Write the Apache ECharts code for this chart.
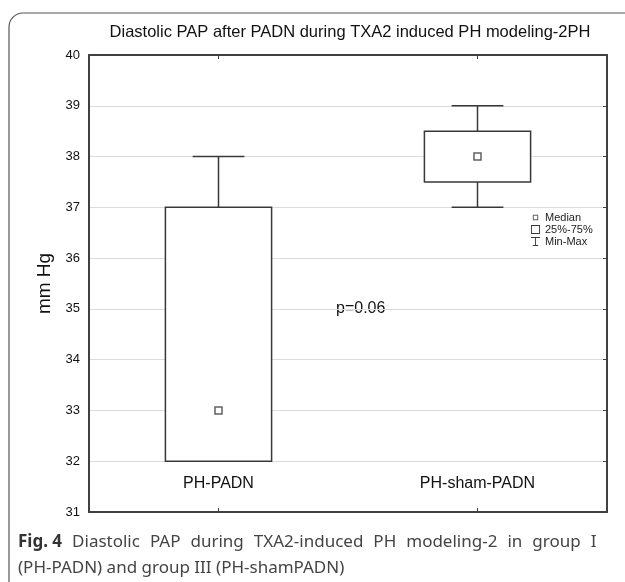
<!DOCTYPE html>
<html>
<head>
<meta charset="utf-8">
<script src="https://cdn.jsdelivr.net/npm/echarts@6/dist/echarts.min.js"></script>
<style>
  html, body { margin: 0; padding: 0; background: #fff; }
  #chart { width: 625px; height: 582px; }
</style>
</head>
<body>
<div id="chart"></div>
<script>
var groups = ['PH-PADN', 'PH-sham-PADN'];
var minVals = [32, 37];
var q1Vals = [32, 37.5];
var medianVals = [33, 38];
var q3Vals = [37, 38.5];
var maxVals = [38, 39];
var yTicks = [31, 32, 33, 34, 35, 36, 37, 38, 39, 40];

var myChart = echarts.init(document.getElementById('chart'));

var frameColor = '#404040';
var markColor = '#383838';

// whiskers: [index, min, max]
var whiskerData = groups.map(function (g, i) { return [i, minVals[i], maxVals[i]]; });
// boxes: [index, q1, q3]
var boxData = groups.map(function (g, i) { return [i, q1Vals[i], q3Vals[i]]; });
var medianData = groups.map(function (g, i) { return [i, medianVals[i]]; });

// caption line 1 is justified in the original, so words get wider gaps
var capWords = ['Diastolic', 'PAP', 'during', 'TXA2-induced', 'PH', 'modeling-2', 'in', 'group', 'I'];
var capLine1 = '{b|Fig. 4}{g| }' + capWords.map(function (w) { return '{n|' + w + '}'; }).join('{g| }');

var option = {
  animation: false,
  title: [
    {
      text: 'Diastolic PAP after PADN during TXA2 induced PH modeling-2PH',
      left: 345,
      top: 19,
      textAlign: 'center',
      textStyle: {
        color: '#111',
        fontSize: 16.5,
        fontWeight: 'normal',
        fontFamily: 'Liberation Sans'
      }
    },
    {
      text: capLine1 + '\n{n|(PH-PADN) and group III (PH-shamPADN)}',
      left: 13,
      top: 524,
      textStyle: {
        fontWeight: 'normal',
        rich: {
          b: { fontSize: 17, fontWeight: 'bold', color: '#333', fontFamily: 'Noto Sans', lineHeight: 26 },
          n: { fontSize: 17, fontWeight: 'normal', color: '#444', fontFamily: 'Noto Sans', lineHeight: 26 },
          g: { fontSize: 17, width: 10, lineHeight: 26 }
        }
      }
    }
  ],
  legend: {
    orient: 'vertical',
    left: 531,
    top: 212,
    padding: 0,
    itemGap: 1,
    itemWidth: 9,
    itemHeight: 9,
    textStyle: { fontSize: 11, color: '#222', fontFamily: 'Liberation Sans' },
    data: [
      { name: 'Median', icon: 'path://M0,0M10,10M2,2H8V8H2Z M3.1,3.1V6.9H6.9V3.1Z', itemStyle: { color: markColor, borderWidth: 0 } },
      { name: '25%-75%', icon: 'path://M0,0H10V10H0Z M1,1V9H9V1Z', itemStyle: { color: markColor, borderWidth: 0 } },
      { name: 'Min-Max', icon: 'path://M0,0H10V1H5.5V9H8V10H2V9H4.5V1H0Z', itemStyle: { color: markColor, borderWidth: 0 } }
    ]
  },
  grid: {
    left: 89,
    right: 18,
    top: 55,
    bottom: 70
  },
  xAxis: [
    {
      type: 'category',
      data: groups,
      axisLine: { lineStyle: { color: frameColor, width: 2 } },
      axisTick: { show: true, inside: true, alignWithLabel: true, length: 4, lineStyle: { color: frameColor } },
      axisLabel: {
        inside: true,
        margin: 20,
        color: '#111',
        fontSize: 16,
        fontFamily: 'Liberation Sans'
      }
    },
    {
      type: 'category',
      position: 'top',
      data: groups,
      axisLine: { lineStyle: { color: frameColor, width: 2 } },
      axisTick: { show: true, inside: true, alignWithLabel: true, length: 4, lineStyle: { color: frameColor } },
      axisLabel: { show: false }
    }
  ],
  yAxis: [
    {
      type: 'value',
      min: 31,
      max: 40,
      interval: 1,
      name: 'mm Hg',
      nameLocation: 'middle',
      nameGap: 34,
      nameTextStyle: { fontSize: 19, color: '#111', fontFamily: 'Liberation Sans' },
      axisLine: { show: true, lineStyle: { color: frameColor, width: 2 } },
      axisTick: { show: false },
      axisLabel: { margin: 9, fontSize: 13, color: '#111', fontFamily: 'Liberation Sans' },
      splitLine: { show: true, lineStyle: { color: '#dcdcdc', width: 1 } }
    },
    {
      type: 'value',
      position: 'right',
      min: 31,
      max: 40,
      interval: 1,
      axisLine: { show: true, lineStyle: { color: frameColor, width: 2 } },
      axisTick: { show: true, inside: true, length: 4, lineStyle: { color: frameColor } },
      axisLabel: { show: false },
      splitLine: { show: false }
    }
  ],
  graphic: [
    {
      type: 'rect',
      shape: { x: 9, y: 13, width: 700, height: 700, r: 14 },
      style: { fill: 'none', stroke: '#555', lineWidth: 1.2 },
      silent: true
    },
    {
      type: 'text',
      left: 336,
      top: 301,
      style: { text: 'p=0.06', fontSize: 16, fill: '#111', fontFamily: 'Liberation Sans' }
    }
  ],
  series: [
    {
      name: 'Min-Max',
      type: 'custom',
      z: 2,
      data: whiskerData,
      renderItem: function (params, api) {
        var x = api.value(0);
        var top = api.coord([x, api.value(2)]);
        var bot = api.coord([x, api.value(1)]);
        var cap = api.size([1, 0])[0] * 0.2;
        var style = { stroke: markColor, lineWidth: 1.5 };
        return {
          type: 'group',
          children: [
            { type: 'line', shape: { x1: top[0], y1: top[1], x2: bot[0], y2: bot[1] }, style: style },
            { type: 'line', shape: { x1: top[0] - cap / 2, y1: top[1], x2: top[0] + cap / 2, y2: top[1] }, style: style },
            { type: 'line', shape: { x1: bot[0] - cap / 2, y1: bot[1], x2: bot[0] + cap / 2, y2: bot[1] }, style: style }
          ]
        };
      }
    },
    {
      name: '25%-75%',
      type: 'custom',
      z: 3,
      data: boxData,
      renderItem: function (params, api) {
        var x = api.value(0);
        var top = api.coord([x, api.value(2)]);
        var bot = api.coord([x, api.value(1)]);
        var w = api.size([1, 0])[0] * 0.41;
        return {
          type: 'rect',
          shape: { x: top[0] - w / 2, y: top[1], width: w, height: bot[1] - top[1] },
          style: { fill: '#fff', stroke: markColor, lineWidth: 1.5 }
        };
      }
    },
    {
      name: 'Median',
      type: 'scatter',
      z: 4,
      symbol: 'rect',
      symbolSize: 7,
      itemStyle: { color: '#fff', borderColor: markColor, borderWidth: 1.5 },
      data: medianData
    }
  ]
};

myChart.setOption(option);
</script>
</body>
</html>
